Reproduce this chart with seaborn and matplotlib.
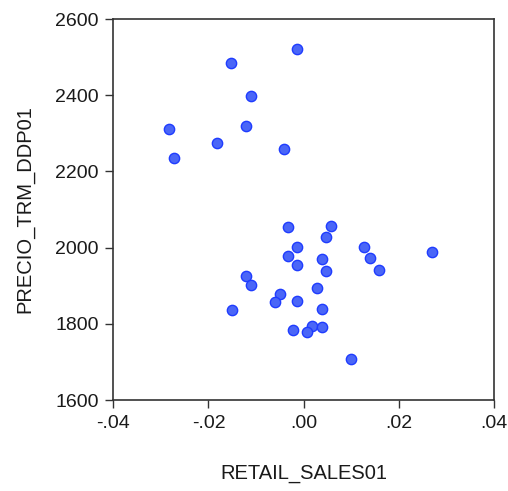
import matplotlib
matplotlib.use('Agg')
import matplotlib.pyplot as plt
from matplotlib.ticker import FuncFormatter
import seaborn as sns
import pandas as pd

# valores
retail_sales = [-0.0013, -0.0153, -0.0111, -0.0283, -0.0121, -0.0182, -0.0273, -0.0042,
                -0.0032, 0.0057, 0.0047, -0.0013, 0.0127, 0.0269, -0.0032, 0.0038,
                0.0139, -0.0013, 0.0047, 0.0159, -0.0121, -0.0111, 0.0028, -0.0050,
                -0.0061, -0.0013, -0.0151, 0.0038, 0.0018, 0.0038, -0.0022, 0.0008,
                0.0099]
precio_trm = [2520, 2485, 2397, 2310, 2318, 2275, 2235, 2259,
              2053, 2057, 2029, 2002, 2002, 1989, 1977, 1969,
              1973, 1954, 1938, 1942, 1925, 1902, 1895, 1879,
              1858, 1859, 1835, 1839, 1795, 1791, 1784, 1778,
              1708]
x_ticks = [-0.04, -0.02, 0.0, 0.02, 0.04]
y_ticks = [1600, 1800, 2000, 2200, 2400, 2600]

df = pd.DataFrame({'RETAIL_SALES01': retail_sales, 'PRECIO_TRM_DDP01': precio_trm})

sns.set_style('ticks')
plt.rcParams['font.family'] = ['Liberation Sans', 'DejaVu Sans']
txt = '#1a1a1a'

fig = plt.figure(figsize=(5.08, 4.91), dpi=100)
ax = fig.add_axes([0.223, 0.1853, 0.7495, 0.776])

sns.scatterplot(data=df, x='RETAIL_SALES01', y='PRECIO_TRM_DDP01', ax=ax,
                s=55, color='#4a66f7', edgecolor='#1f3cff', linewidth=1.0, zorder=3)

ax.set_xlim(-0.04, 0.04)
ax.set_ylim(1600, 2600)
ax.set_xticks(x_ticks)
ax.set_yticks(y_ticks)

def fmt_x(v, pos):
    if abs(v) < 1e-9:
        return '.00'
    return ('%.2f' % v).replace('0.', '.')

ax.xaxis.set_major_formatter(FuncFormatter(fmt_x))
ax.tick_params(direction='out', length=6, width=1, pad=4.5, colors='#333333',
               labelcolor=txt, labelsize=14)
for sp in ax.spines.values():
    sp.set_color('#333333')
    sp.set_linewidth(1.2)

ax.set_xlabel('RETAIL_SALES01', fontsize=14.5, color=txt, labelpad=23)
ax.set_ylabel('PRECIO_TRM_DDP01', fontsize=14.5, color=txt, labelpad=15)

fig.savefig('out.png', dpi=100)
